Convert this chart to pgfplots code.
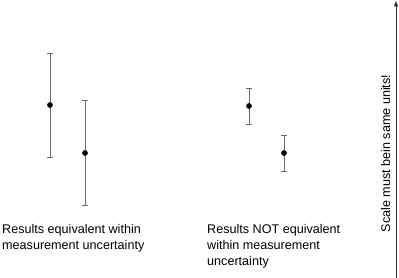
\documentclass[border=0pt]{standalone}
\usepackage{pgfplots}
\pgfplotsset{compat=1.18}
\usepackage{fontspec}
\setmainfont{Liberation Sans}
\usetikzlibrary{arrows.meta}
\begin{document}
\begin{tikzpicture}
\begin{axis}[
  scale only axis, width=399bp, height=278bp,
  xmin=0, xmax=399, ymin=0, ymax=278,
  hide axis, clip=false,
]
\coordinate (bl) at (axis cs:0,0);
\coordinate (tr) at (axis cs:399,278);
\addplot[only marks, mark=*, mark size=2.6bp, black,
  error bars/.cd, y dir=both, y explicit,
  error bar style={line width=0.9bp, gray!85!black},
  error mark options={rotate=90, mark size=3.2bp, line width=0.7bp, gray!85!black}]
  table[x=x, y=y, y error=e] {
x y e
50 173 52
85 125 52.5
249 172 18
284 125 18
};
\tikzset{lbl/.style={anchor=base west, inner sep=0, font=\fontsize{12.6bp}{15bp}\selectfont}}
\node[lbl] at (axis cs:2,44) {Results equivalent within};
\node[lbl] at (axis cs:2,28.5) {measurement uncertainty};
\node[lbl] at (axis cs:207,44) {Results NOT equivalent};
\node[lbl] at (axis cs:207,28.5) {within measurement};
\node[lbl] at (axis cs:207,13) {uncertainty};
\node[anchor=base, rotate=90, inner sep=0, font=\fontsize{12.6bp}{15bp}\selectfont] at (axis cs:390,124.5) {Scale must bein same units!};
\draw[-{Latex[length=6bp,width=4.5bp]}, line width=0.7bp, black!80] (axis cs:396,0) -- (axis cs:396,277.5);
\end{axis}
\pgfresetboundingbox
\useasboundingbox (bl) rectangle (tr);
\end{tikzpicture}
\end{document}
